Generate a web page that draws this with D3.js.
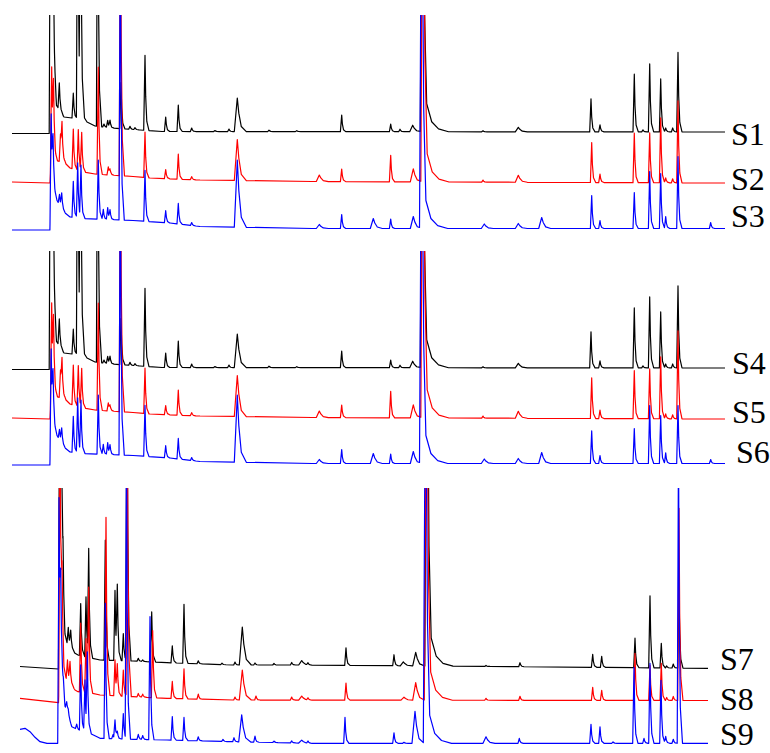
<!DOCTYPE html>
<html><head><meta charset="utf-8">
<script src="https://cdn.jsdelivr.net/npm/d3@7"></script>
<style>html,body{margin:0;padding:0;background:#fff;}svg{display:block;}
.lbl{font-family:"Liberation Serif","Times New Roman",Tinos,"DejaVu Serif",serif;font-size:32px;fill:#000;}</style>
</head><body>
<svg id="chart" width="770" height="753"></svg>
<script>
// ---- DATA (retention time in min, intensity in detector units) ----
const traceNames = ["S1","S2","S3","S4","S5","S6","S7","S8","S9"];

// baselines: [time, level]
const S1_base = [[0,-1.5],[3.75,-1.5],[3.85,24],[4.6,24],[5.2,15],[6.0,14],[6.8,13],[7.0,18],[7.5,10],[8.3,6],[10,4],[12.8,2],[15,0.5],[71.3,0]];
const S2_base = [[0,0.5],[3.8,-0.5],[3.9,24],[4.4,22],[5.3,19.5],[5.8,14.5],[7.1,10.5],[8.3,8.5],[12.1,6],[13.8,4.5],[18.8,2.5],[30,1],[71.3,-0.5]];
const S3_base = [[0,-1.5],[3.8,-1.5],[3.9,40],[4.5,28],[5.3,15.5],[5.8,11.5],[7.2,10],[9.5,9],[12.1,8],[15.8,5.5],[18.8,2],[30,0],[71.3,0]];
const S4_base = [[0,-1.5],[3.75,-1.5],[3.85,24],[4.6,24],[5.2,15],[6.0,14],[6.8,13],[7.0,18],[7.5,10],[8.3,6],[10,4],[12.8,2],[15,0.5],[71.3,0]];
const S5_base = [[0,0.5],[3.8,-0.5],[3.9,24],[4.4,22],[5.3,19.5],[5.8,14.5],[7.1,10.5],[8.3,8.5],[12.1,6],[13.8,4.5],[18.8,2.5],[30,1],[71.3,-0.5]];
const S6_base = [[0,-1.5],[3.8,-1.5],[3.9,40],[4.5,28],[5.3,15.5],[5.8,11.5],[7.2,10],[9.5,9],[12.1,8],[15.8,5.5],[18.8,2],[30,0],[71.3,0]];
const S7_base = [[0.8,0.5],[4.65,-2],[4.75,35],[5.3,27],[6.3,13.7],[6.6,12],[8.0,8.7],[8.8,7],[12.1,6],[15.5,4.3],[22.1,2],[28.8,2],[50.8,0.3],[69.6,-1.3]];
const S8_base = [[0.8,2.2],[4.65,-2.2],[4.75,30],[5.2,25],[6.0,15],[6.3,10.5],[6.6,8.8],[8.0,7.2],[8.8,5.5],[12.1,3.8],[15.5,2.2],[22.1,0.5],[69.6,0]];
const S9_base = [[0.8,14],[1.3,15],[1.8,11.6],[2.3,6],[2.8,1.6],[3.5,0],[4.65,0],[4.72,50],[5.13,60],[5.3,37],[5.5,33],[5.7,25],[5.97,16.6],[6.3,15],[6.7,13],[7.8,10],[8.5,6.6],[8.8,5],[12.1,4],[15.5,3.3],[22.1,1.6],[30,0],[69.6,0]];

// peaks: [time, height, kind] kind: n = sharp, b = broad, m = main (tailing)
const S1_peaks = [[3.85,300],[4.05,300],[4.23,26],[4.73,27],[6.13,25],[6.57,300],[6.85,300],[8.57,300],[9.2,3],[9.57,7],[9.8,7],[10.9,46],[11.8,3],[12.3,2],[13.3,75],[15.37,14.5],[16.63,26.5],[17.97,3.5],[20.3,1],[21.7,2.5],[22.53,33.5,"b"],[25.7,1.5],[28.47,1],[32.97,16.5],[37.87,7.5],[38.8,2.5],[40.07,6.5,"b"],[41.05,400,"m"],[47.1,1],[50.63,4.5,"b"],[57.9,33],[58.8,7],[62.23,57.7],[63.1,2],[63.77,68],[64.87,53],[65.37,4],[66.07,4],[66.6,79.5]];
const S2_peaks = [[3.97,92],[4.15,70],[4.85,28],[5.0,35],[6.13,40],[6.63,41],[6.97,38],[8.63,107],[9.63,8],[9.8,5],[10.85,300],[13.3,45.5],[15.37,9],[16.63,25],[17.97,3],[22.53,41,"b"],[30.73,6.5,"b"],[32.97,12.5],[37.87,26.5],[40.13,13,"b"],[41.1,400,"m"],[47.1,2],[50.63,7,"b"],[57.97,40],[58.8,8.5],[62.23,49.5],[63.77,50],[64.87,65],[65.37,5],[66.07,4],[66.6,82]];
const S3_peaks = [[3.92,75],[4.1,50],[4.75,10],[4.97,14],[6.13,36],[6.57,55],[6.9,51],[8.63,59],[9.13,10],[9.57,12],[9.8,9],[10.83,300],[13.3,51],[15.37,12],[16.63,20.5],[17.97,3],[22.53,67,"b"],[30.73,4,"b"],[32.97,14],[36.13,10,"b"],[37.87,9.5],[40.13,12,"b"],[40.97,400,"m"],[47.23,4.5,"b"],[50.63,5,"b"],[52.97,11,"b"],[57.97,33],[58.8,8],[62.23,36],[63.77,57],[64.87,55],[65.37,12],[66.6,72],[69.87,6]];
const S4_peaks = [[3.85,300],[4.05,300],[4.23,26],[4.73,27],[6.13,25],[6.57,300],[6.85,300],[8.57,300],[9.2,3],[9.57,7],[9.8,7],[10.9,46],[11.8,3],[12.3,2],[13.3,78],[15.37,14.5],[16.63,26.5],[17.97,3.5],[20.3,1],[21.7,2.5],[22.53,33.5,"b"],[25.7,1.5],[28.47,1],[32.97,16.5],[37.87,7.5],[38.8,2.5],[40.07,6.5,"b"],[41.05,400,"m"],[47.1,1],[50.63,4.5,"b"],[57.9,36],[58.8,7],[62.23,60],[63.1,2],[63.77,71],[64.87,56],[65.37,4],[66.07,4],[66.6,82]];
const S5_peaks = [[3.97,92],[4.15,70],[4.85,28],[5.0,35],[6.13,40],[6.63,41],[6.97,38],[8.63,107],[9.63,8],[9.8,5],[10.85,300],[13.3,45.5],[15.37,9],[16.63,25],[17.97,3],[22.53,41,"b"],[30.73,6.5,"b"],[32.97,12.5],[37.87,26.5],[40.13,13,"b"],[41.1,400,"m"],[47.1,2],[50.63,7,"b"],[57.97,40.6],[58.8,8.5],[62.23,48],[63.77,50],[64.87,62],[65.37,5],[66.07,4],[66.6,88]];
const S6_peaks = [[3.92,75],[4.1,50],[4.75,10],[4.97,14],[6.13,36],[6.57,55],[6.9,51],[8.63,59],[9.13,10],[9.57,12],[9.8,9],[10.83,300],[13.3,51],[15.37,12],[16.63,20.5],[17.97,3],[22.53,67,"b"],[30.73,4,"b"],[32.97,14],[36.13,10,"b"],[37.87,9.5],[40.13,12,"b"],[40.97,400,"m"],[47.23,4.5,"b"],[50.63,5,"b"],[52.97,11,"b"],[57.97,32.6],[58.8,8],[62.23,35],[63.77,58],[64.87,48],[65.37,10.6],[66.6,58],[69.87,4]];
const S7_peaks = [[4.78,300],[4.9,300],[5.1,55],[5.63,17],[5.87,16],[6.87,52],[7.4,60],[7.67,105],[9.33,120],[10.3,70],[10.53,70],[11.13,27],[11.5,300],[12.63,3],[13.07,1.5],[13.97,50],[16.03,17],[17.2,59],[18.63,3],[21,1.5],[22.3,3],[23.03,38,"b"],[24.3,2],[26.2,1.5],[27.97,2.5],[28.97,4.5,"b"],[29.6,2],[33.4,17.5],[38.2,11],[39.13,4,"b"],[40.37,13.5,"b"],[41.5,400,"m"],[47.4,1],[50.8,4],[58.07,13],[58.97,11],[62.3,29.5],[63.8,72],[64.93,24.5],[65.47,2],[66.13,4],[66.7,75]];
const S8_peaks = [[4.8,300],[5.0,80],[5.55,20],[5.8,20],[6.87,69],[7.4,54],[7.67,102],[9.4,178],[10.3,36],[10.53,29],[11.13,26],[11.53,300],[12.63,3.5],[13.07,3],[14.07,67],[16.03,17],[17.2,30],[18.63,5],[22.3,3],[23.03,30,"b"],[24.4,4],[27.97,3],[28.97,4,"b"],[29.6,2],[33.4,17],[39.2,3,"b"],[40.37,17.5,"b"],[41.45,400,"m"],[47.4,2],[50.8,4],[58.07,13],[58.97,10],[62.3,47],[63.8,35],[64.93,37],[65.47,3],[66.13,4],[66.7,192]];
const S9_peaks = [[4.7,210],[4.87,90],[5.47,8],[5.63,5],[6.47,5],[6.87,66],[7.3,52],[7.53,76],[9.33,135],[10.1,4],[10.3,18.5],[10.53,6],[11.13,25.5],[11.45,300],[12.63,5],[13.07,4],[13.8,123],[16.03,23.5],[17.2,23],[18.63,4],[21.1,2],[22.2,4],[22.97,27,"b"],[24.3,6],[26.2,1.5],[27.97,2],[28.97,3,"b"],[29.6,2],[33.3,26],[38.2,10.5],[39.2,1],[40.3,32,"b"],[41.35,400,"m"],[47.4,6.5,"b"],[50.73,5],[57.9,19],[58.8,16.5],[60.1,1.5],[62.2,76],[63.2,5],[63.8,80],[64.9,63],[65.37,7],[66.13,4],[66.65,300]];

// ---- STYLE / LAYOUT ----
const SHAPES = {
  n: [[-0.13,0],[0,1],[0.07,0.45],[0.18,0.12],[0.4,0]],
  b: [[-0.3,0],[0,1],[0.15,0.55],[0.4,0.15],[0.9,0]],
  m: [[-0.22,0],[0,1],[0.2,0.3],[0.42,0.07],[0.92,0.025],[1.6,0.007],[2.6,0]]
};
const COLORS = ["#000000","#ff0000","#0000ff"];
const panels = [
  {top:15, bottom:228.5, clipBottom:245, traces:[
    {name:"S1", base:S1_base, peaks:S1_peaks, off:96.5, lx:731, ly:145},
    {name:"S2", base:S2_base, peaks:S2_peaks, off:46, lx:731, ly:190},
    {name:"S3", base:S3_base, peaks:S3_peaks, off:0, lx:731, ly:227}]},
  {top:251, bottom:463.5, clipBottom:482, traces:[
    {name:"S4", base:S4_base, peaks:S4_peaks, off:95.5, lx:732, ly:374},
    {name:"S5", base:S5_base, peaks:S5_peaks, off:45, lx:732, ly:423},
    {name:"S6", base:S6_base, peaks:S6_peaks, off:0, lx:736, ly:463}]},
  {top:488, bottom:743.3, clipBottom:753, traces:[
    {name:"S7", base:S7_base, peaks:S7_peaks, off:76.3, lx:720, ly:670},
    {name:"S8", base:S8_base, peaks:S8_peaks, off:42.8, lx:720, ly:710},
    {name:"S9", base:S9_base, peaks:S9_peaks, off:0, lx:720, ly:745}]}
];

const svg = d3.select("#chart");
const x = d3.scaleLinear().domain([0, 71.3]).range([12, 725]);

function interp(arr, t){
  if (t <= arr[0][0]) return arr[0][1];
  for (let i=1;i<arr.length;i++){
    if (t <= arr[i][0]){
      const [t0,v0]=arr[i-1],[t1,v1]=arr[i];
      return t1===t0 ? v1 : v0 + (v1-v0)*(t-t0)/(t1-t0);
    }
  }
  return arr[arr.length-1][1];
}
function contrib(p, t){
  const sh = SHAPES[p[2]||"n"];
  const dx = t - p[0];
  if (dx <= sh[0][0] || dx >= sh[sh.length-1][0]) return 0;
  for (let i=1;i<sh.length;i++){
    if (dx <= sh[i][0]){
      const [a0,f0]=sh[i-1],[a1,f1]=sh[i];
      return p[1]*(f0 + (f1-f0)*(dx-a0)/(a1-a0));
    }
  }
  return 0;
}
function buildTrace(base, peaks){
  const ts = new Set(base.map(d=>d[0]));
  peaks.forEach(p => SHAPES[p[2]||"n"].forEach(s => ts.add(+(p[0]+s[0]).toFixed(4))));
  const tMin = base[0][0], tMax = base[base.length-1][0];
  return [...ts].filter(t=>t>=tMin && t<=tMax).sort((a,b)=>a-b)
    .map(t => [t, interp(base,t) + d3.sum(peaks, p => contrib(p,t))]);
}

panels.forEach((pn, pi) => {
  const y = d3.scaleLinear().domain([0, pn.bottom - pn.top]).range([pn.bottom, pn.top]);
  const cid = "clip" + pi;
  svg.append("clipPath").attr("id", cid).append("rect")
    .attr("x", 0).attr("y", pn.top).attr("width", 770).attr("height", pn.clipBottom - pn.top);
  const g = svg.append("g").attr("clip-path", `url(#${cid})`);
  pn.traces.forEach((tr, i) => {
    const pts = buildTrace(tr.base, tr.peaks);
    const line = d3.line().x(d => x(d[0])).y(d => y(tr.off + d[1]));
    g.append("path").datum(pts).attr("d", line)
      .attr("fill","none").attr("stroke", COLORS[i]).attr("stroke-width", 1.2)
      .attr("stroke-linejoin","round");
  });
  pn.traces.forEach(tr => {
    svg.append("text").attr("class","lbl").attr("x", tr.lx).attr("y", tr.ly).text(tr.name);
  });
});
</script>
</body></html>
